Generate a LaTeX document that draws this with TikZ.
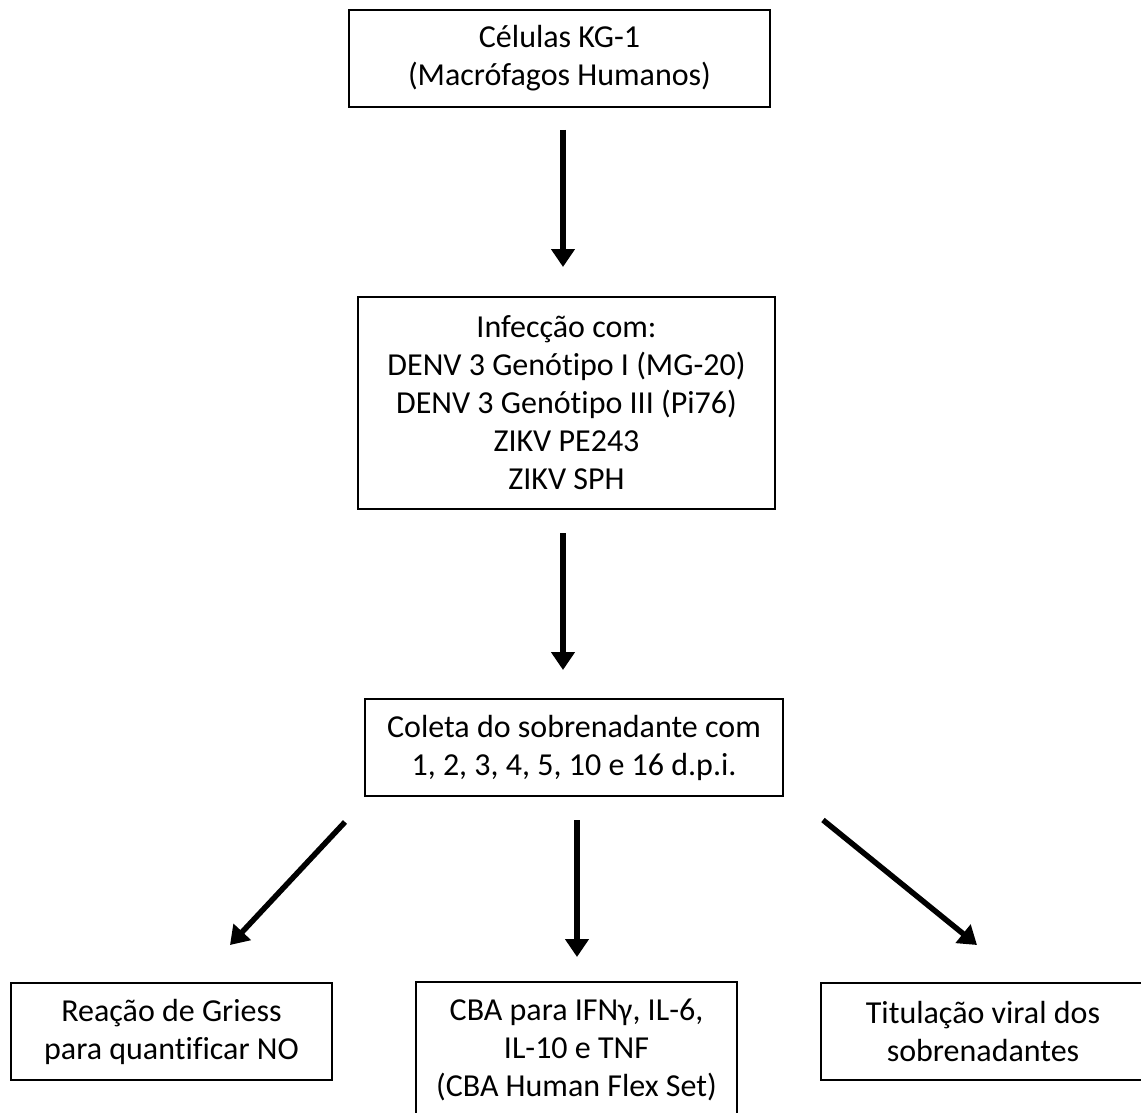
\documentclass[tikz,border=0pt]{standalone}
\usepackage{fontspec}
\setmainfont{Carlito}[Ligatures=NoCommon]
\usetikzlibrary{arrows.meta}
\begin{document}
\begin{tikzpicture}[x=1pt,y=-1pt,
  box/.style={draw, line width=2.2pt, inner sep=0pt, align=center,
    font=\fontsize{32pt}{38pt}\selectfont},
  arr/.style={line width=5.5pt, -{Triangle[width=23pt,length=18pt]}}]
\useasboundingbox (0,0) rectangle (1141,1113);
\clip (0,0) rectangle (1141,1113);
\node[box, minimum width=421pt, minimum height=97pt] (b1) at (559.5,58.5)
  {Células KG-1\\(Macrófagos Humanos)};
\node[box, minimum width=417pt, minimum height=212pt] (b2) at (566.5,403)
  {Infecção com:\\DENV 3 Genótipo I (MG-20)\\DENV 3 Genótipo III (Pi76)\\ZIKV PE243\\ZIKV SPH};
\node[box, minimum width=418pt, minimum height=97pt] (b3) at (574,747.5)
  {Coleta do sobrenadante com\\1, 2, 3, 4, 5, 10 e 16 d.p.i.};
\node[box, minimum width=321pt, minimum height=97pt] (bl) at (171.5,1031.5)
  {Reação de Griess\\para quantificar NO};
\node[box, minimum width=321pt, minimum height=136pt] (bm) at (576.5,1050)
  {CBA para IFNγ, IL-6,\\IL-10 e TNF\\(CBA Human Flex Set)};
\node[box, minimum width=324pt, minimum height=97pt] (br) at (983,1031.5)
  {Titulação viral dos\\sobrenadantes};
\coordinate (a1s) at (563,130);
\coordinate (a1e) at (563,267);
\coordinate (a2s) at (563,533);
\coordinate (a2e) at (563,670);
\coordinate (als) at (345,822);
\coordinate (ale) at (230,945);
\coordinate (ams) at (577,820);
\coordinate (ame) at (577,957);
\coordinate (ars) at (823,820);
\coordinate (are) at (977,945);
\draw[arr] (a1s) -- (a1e);
\draw[arr] (a2s) -- (a2e);
\draw[arr] (als) -- (ale);
\draw[arr] (ams) -- (ame);
\draw[arr] (ars) -- (are);
\end{tikzpicture}
\end{document}
